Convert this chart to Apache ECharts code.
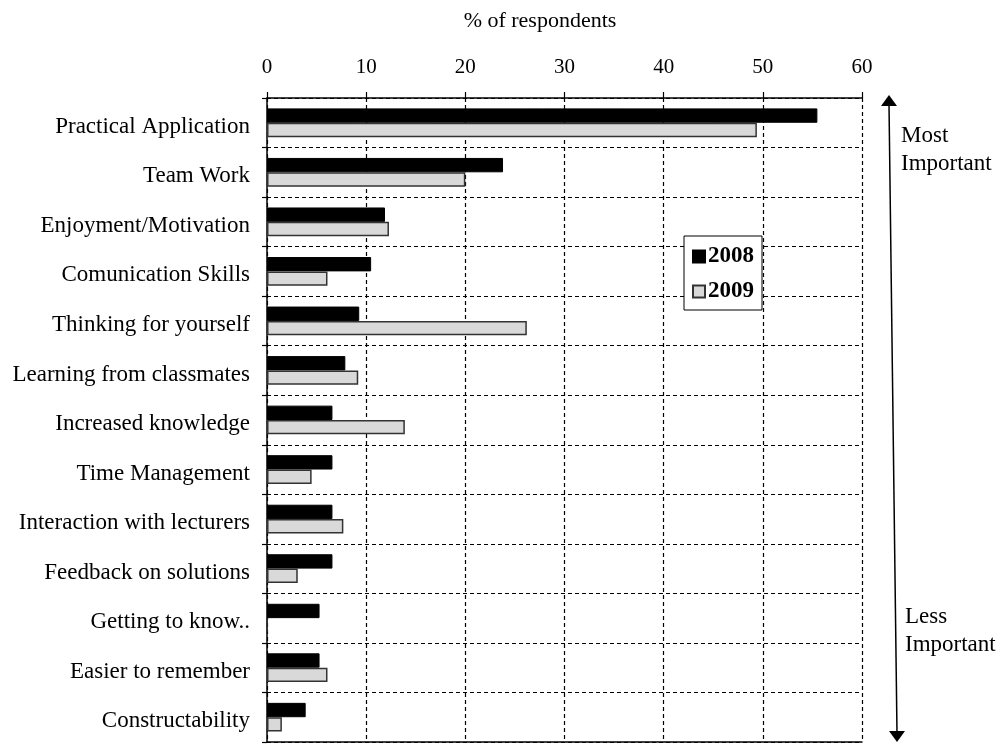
<!DOCTYPE html>
<html>
<head>
<meta charset="utf-8">
<script src="https://cdn.jsdelivr.net/npm/echarts@6/dist/echarts.min.js"></script>
<style>
html,body{margin:0;padding:0;background:#fff;}
#chart{width:1008px;height:745px;}
</style>
</head>
<body>
<div id="chart"></div>
<script>
const categories = [
  "Practical Application",
  "Team Work",
  "Enjoyment/Motivation",
  "Comunication Skills",
  "Thinking for yourself",
  "Learning from classmates",
  "Increased knowledge",
  "Time Management",
  "Interaction with lecturers",
  "Feedback on solutions",
  "Getting to know..",
  "Easier to remember",
  "Constructability"
];
const values2008 = [55.5, 23.8, 11.9, 10.5, 9.3, 7.9, 6.6, 6.6, 6.6, 6.6, 5.3, 5.3, 3.9];
const values2009 = [49.4, 20.0, 12.3, 6.1, 26.2, 9.2, 13.9, 4.5, 7.7, 3.1, 0, 6.1, 1.5];
const seriesNames = ["2008", "2009"];
const xTicks = [0, 10, 20, 30, 40, 50, 60];

const FONT = "'Liberation Serif', 'DejaVu Serif', serif";
const chart = echarts.init(document.getElementById('chart'));

const option = {
  animation: false,
  backgroundColor: '#fff',
  title: {
    text: '% of respondents',
    left: 540, top: 10,
    textAlign: 'center',
    padding: 0,
    textStyle: { fontFamily: FONT, fontSize: 22, fontWeight: 'normal', color: '#000' }
  },
  grid: { left: 267, right: 146, top: 98, bottom: 3, containLabel: false, outerBoundsMode: 'none' },
  legend: {
    orient: 'vertical',
    left: 684, top: 236,
    padding: [9, 8, 7, 8],
    itemGap: 12,
    itemWidth: 12, itemHeight: 12,
    backgroundColor: '#fff',
    borderColor: '#000', borderWidth: 1,
    textStyle: { fontFamily: FONT, fontSize: 23, fontWeight: 'bold', color: '#000', padding: [0,0,0,-2] },
    data: [
      { name: seriesNames[0], icon: 'rect' },
      { name: seriesNames[1], icon: 'rect' }
    ]
  },
  xAxis: [{
    type: 'value',
    position: 'top',
    min: xTicks[0], max: xTicks[xTicks.length - 1], interval: 10,
    axisLine: { show: true, lineStyle: { color: '#000', width: 1.5 } },
    axisTick: { show: true, inside: false, length: 6, lineStyle: { color: '#000', width: 1.2 } },
    axisLabel: { fontFamily: FONT, fontSize: 21, color: '#000', margin: 20 },
    splitLine: { show: true, lineStyle: { color: '#000', type: [4, 3], width: 1.2 } }
  }, {
    type: 'value',
    position: 'bottom',
    min: 0, max: 60, interval: 10,
    axisLine: { show: true, lineStyle: { color: '#000', width: 1.5 } },
    axisTick: { show: false },
    axisLabel: { show: false },
    splitLine: { show: false }
  }],
  yAxis: {
    type: 'category',
    inverse: true,
    data: categories,
    axisLine: { show: true, lineStyle: { color: '#000', width: 1.5 } },
    axisTick: { show: true, length: 5, lineStyle: { color: '#000', width: 1.2 } },
    axisLabel: { fontFamily: FONT, fontSize: 23, color: '#000', margin: 17, verticalAlign: 'top', lineHeight: 8 },
    splitLine: { show: true, lineStyle: { color: '#000', type: [4, 3], width: 1.2 } }
  },
  series: [
    {
      name: seriesNames[0], type: 'bar', data: values2008,
      barGap: '0%', barCategoryGap: '42%',
      itemStyle: { color: '#000', borderColor: '#000', borderWidth: 1 }
    },
    {
      name: seriesNames[1], type: 'bar', data: values2009,
      barGap: '0%', barCategoryGap: '42%',
      itemStyle: { color: '#d9d9d9', borderColor: '#333', borderWidth: 1.5 }
    }
  ],
  graphic: [
    { type: 'line', shape: { x1: 889, y1: 104, x2: 897, y2: 733 }, style: { stroke: '#000', lineWidth: 1.5 } },
    { type: 'polygon', shape: { points: [[889, 95], [881, 106], [897, 106]] }, style: { fill: '#000' } },
    { type: 'polygon', shape: { points: [[897, 742], [889, 731], [905, 731]] }, style: { fill: '#000' } },
    { type: 'text', left: 901, top: 122, style: { text: 'Most\nImportant', font: "23px 'Liberation Serif', serif", fill: '#000', lineHeight: 28 } },
    { type: 'text', left: 905, top: 603, style: { text: 'Less\nImportant', font: "23px 'Liberation Serif', serif", fill: '#000', lineHeight: 28 } }
  ]
};
chart.setOption(option);
</script>
</body>
</html>
